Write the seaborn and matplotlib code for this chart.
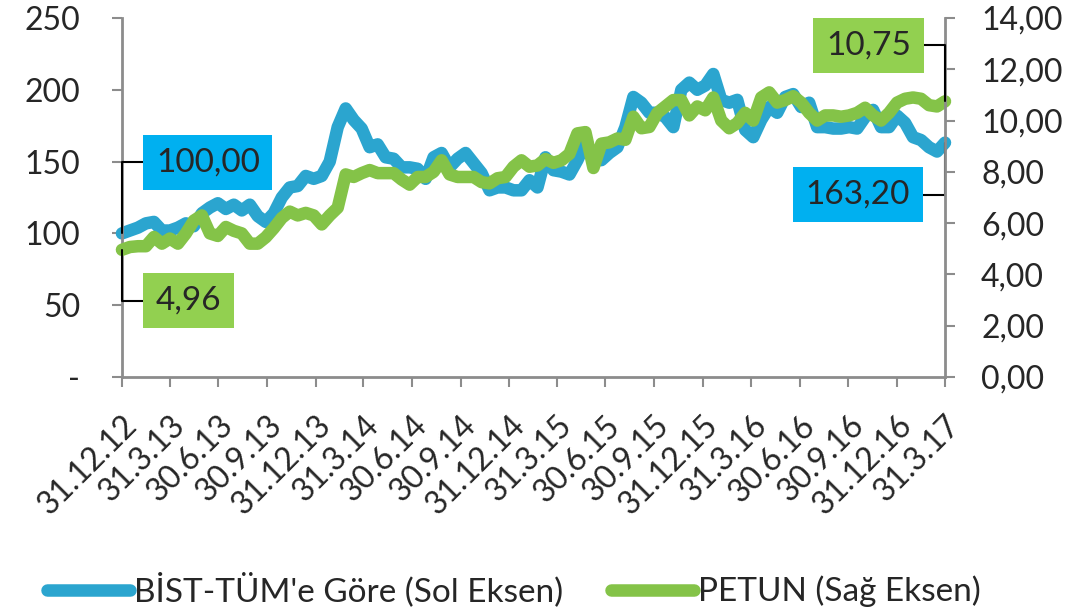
import matplotlib
matplotlib.use('Agg')
import pandas as pd
import matplotlib.pyplot as plt
import seaborn as sns

# ── Data (roughly every 1/6 quarter) ──────────────────────────────────────────
START_DATE = '2012-12-31'
END_DATE   = '2017-03-31'

BIST_REL = [
    100, 102, 104, 107, 108, 102, 102, 104, 107, 105,
    114, 118, 121, 117, 120, 116, 120, 112, 108, 114,
    125, 132, 133, 140, 138, 140, 150, 174, 187, 179,
    173, 160, 162, 153, 152, 146, 146, 145, 138, 153,
    156, 146, 152, 156, 149, 142, 130, 132, 132, 130,
    130, 137, 132, 153, 144, 143, 141, 151, 163, 151,
    151, 156, 160, 174, 195, 191, 184, 184, 181, 174,
    200, 205, 200, 203, 211, 193, 191, 193, 172, 167,
    179, 188, 184, 195, 197, 188, 191, 174, 174, 173,
    173, 174, 173, 181, 186, 174, 174, 182, 177, 167,
    165, 160, 157, 163.20,
]

PETUN = [
    4.96, 5.07, 5.10, 5.10, 5.46, 5.20, 5.40, 5.20, 5.60, 6.10,
    6.30, 5.60, 5.50, 5.85, 5.70, 5.60, 5.20, 5.20, 5.45, 5.80,
    6.20, 6.45, 6.30, 6.40, 6.30, 5.95, 6.30, 6.60, 7.90, 7.80,
    7.95, 8.07, 7.95, 7.95, 7.95, 7.70, 7.50, 7.80, 7.80, 8.00,
    8.45, 7.90, 7.80, 7.80, 7.80, 7.60, 7.55, 7.75, 7.80, 8.20,
    8.45, 8.20, 8.25, 8.50, 8.35, 8.45, 8.70, 9.50, 9.55, 8.15,
    9.10, 9.15, 9.30, 9.25, 10.15, 9.70, 9.75, 10.30, 10.55, 10.80,
    10.80, 10.20, 10.55, 10.40, 10.90, 10.00, 9.70, 9.90, 10.30, 10.00,
    10.90, 11.10, 10.70, 10.80, 10.95, 10.70, 10.30, 10.00, 10.20, 10.20,
    10.15, 10.20, 10.30, 10.50, 10.20, 10.00, 10.30, 10.70, 10.85, 10.90,
    10.85, 10.60, 10.55, 10.75,
]

TICK_LABELS = [
    '31.12.12', '31.3.13', '30.6.13', '30.9.13', '31.12.13', '31.3.14',
    '30.6.14', '30.9.14', '31.12.14', '31.3.15', '30.6.15', '30.9.15',
    '31.12.15', '31.3.16', '30.6.16', '30.9.16', '31.12.16', '31.3.17',
]
LEFT_TICKS  = [0, 50, 100, 150, 200, 250]
RIGHT_TICKS = [0, 2, 4, 6, 8, 10, 12, 14]
LEGEND_LABELS = ["BİST-TÜM'e Göre (Sol Eksen)", "PETUN (Sağ Eksen)"]

# ── Style ─────────────────────────────────────────────────────────────────────
BLUE_LINE  = '#2BA5CF'
GREEN_LINE = '#84C348'
BLUE_BOX   = '#00B0F0'
GREEN_BOX  = '#92D050'
GRAY       = '#8C8C8C'
FS         = 23
FS_BOX     = 24

sns.set_style('white')
plt.rcParams['font.family'] = ['Lato', 'DejaVu Sans']
plt.rcParams['font.size'] = FS


def comma(v):
    return f'{v:.2f}'.replace('.', ',')


dates = pd.date_range(START_DATE, END_DATE, periods=len(BIST_REL))
df = pd.DataFrame({'date': dates, 'bist': BIST_REL, 'petun': PETUN})

fig, ax = plt.subplots(figsize=(10.66, 6.14), dpi=100)
fig.subplots_adjust(left=0.1144, right=0.8865, bottom=0.386, top=0.9707)
ax2 = ax.twinx()

line_kw = dict(lw=9, solid_capstyle='round', solid_joinstyle='round', clip_on=False)
sns.lineplot(data=df, x='date', y='bist', ax=ax, color=BLUE_LINE, legend=False, **line_kw)
sns.lineplot(data=df, x='date', y='petun', ax=ax2, color=GREEN_LINE, legend=False, **line_kw)

ax.set_xlim(dates[0], dates[-1])
ax.set_ylim(0, 250)
ax2.set_ylim(0, 14)

ax.set_xticks(pd.to_datetime(TICK_LABELS, format='%d.%m.%y'))
ax.set_xticklabels(TICK_LABELS, rotation=45, ha='right', rotation_mode='anchor')
ax.set_yticks(LEFT_TICKS)
ax.set_yticklabels(['-' if v == 0 else str(v) for v in LEFT_TICKS])
ax2.set_yticks(RIGHT_TICKS)
ax2.set_yticklabels([comma(v) for v in RIGHT_TICKS])
for a in (ax, ax2):
    a.set_xlabel('')
    a.set_ylabel('')

ax.tick_params(axis='x', bottom=True, direction='out', length=7, width=1.5, color=GRAY, pad=17)
ax.tick_params(axis='y', left=True, direction='out', length=7, width=1.5, color=GRAY, pad=23)
ax2.tick_params(axis='y', right=True, direction='out', length=7, width=1.5, color=GRAY, pad=19)

for s in ('top', 'right'):
    ax.spines[s].set_visible(False)
for s in ('top', 'left', 'bottom'):
    ax2.spines[s].set_visible(False)
for sp in (ax.spines['left'], ax.spines['bottom'], ax2.spines['right']):
    sp.set_color(GRAY)
    sp.set_linewidth(2)

# ── Callout labels for first / last values ────────────────────────────────────
def callout(axis, idx, values, offset, box_color, side):
    ha = 'left' if side == 'left' else 'right'
    rel = (0, 0.5) if side == 'left' else (1, 0.5)
    axis.annotate(comma(values[idx]), xy=(dates[idx], values[idx]),
                  xytext=offset, textcoords='offset pixels',
                  ha=ha, va='center', fontsize=FS_BOX, zorder=5,
                  bbox=dict(boxstyle='square,pad=0.38', fc=box_color, ec='none'),
                  arrowprops=dict(arrowstyle='-', color='black', lw=1.5,
                                  connectionstyle='angle,angleA=0,angleB=90,rad=0',
                                  relpos=rel, shrinkA=0, shrinkB=0))

callout(ax,  0,  BIST_REL, (34, 71),   BLUE_BOX,  'left')
callout(ax2, 0,  PETUN,    (34, -51),  GREEN_BOX, 'left')
callout(ax2, -1, PETUN,    (-34, 56),  GREEN_BOX, 'right')
callout(ax,  -1, BIST_REL, (-35, -52), BLUE_BOX,  'right')

# ── Legend ────────────────────────────────────────────────────────────────────
handles = [ax.get_lines()[0], ax2.get_lines()[0]]
fig.legend(handles, LEGEND_LABELS, loc='center', bbox_to_anchor=(0.482, 0.039),
           ncol=2, frameon=False, fontsize=24, handlelength=2.5,
           handletextpad=0.1, columnspacing=1.45)

fig.savefig('out.png', dpi=100)
